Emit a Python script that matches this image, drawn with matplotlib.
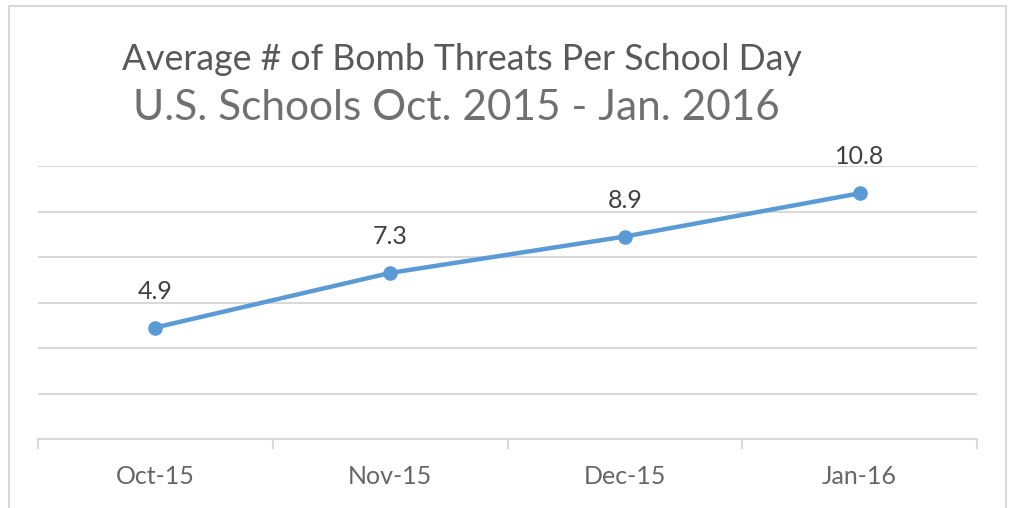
import matplotlib.pyplot as plt
from matplotlib.patches import Rectangle

months = ["Oct-15", "Nov-15", "Dec-15", "Jan-16"]
avg_threats = [4.9, 7.3, 8.9, 10.8]
value_labels = ["4.9", "7.3", "8.9", "10.8"]

title = "Average # of Bomb Threats Per School Day"
subtitle = "U.S. Schools Oct. 2015 - Jan. 2016"

plt.rcParams['font.family'] = ['Lato', 'DejaVu Sans']

W, H = 1011, 508
fig = plt.figure(figsize=(W / 100, H / 100), dpi=100)

# outer chart frame (bottom edge runs off the image)
fig.patches.append(Rectangle((9 / W, -0.1), (1006 - 9) / W, 1.1 - 6 / H,
                             transform=fig.transFigure, fill=False,
                             edgecolor='#d9d9d9', linewidth=1.5))
# descender of cut-off text above the frame
fig.text(150 / W, 1 + 14 / H, "p", fontsize=20, color='black', ha='center', va='baseline')

ax = fig.add_axes([38 / W, 1 - 439 / H, (977 - 38) / W, (439 - 166) / H])
x = range(len(months))
ax.plot(x, avg_threats, color='#5b9bd5', linewidth=3.2, marker='o', markersize=9.5,
        solid_capstyle='round', zorder=3)
for xi, v, lab in zip(x, avg_threats, value_labels):
    ax.annotate(lab, (xi, v), xytext=(0, 18), textcoords='offset points',
                ha='center', va='bottom', fontsize=18, color='#404040')

ax.set_xlim(-0.5, len(months) - 0.5)
ax.set_ylim(0, 12)
ax.set_yticks(range(0, 13, 2))
ax.yaxis.grid(True, color='#d9d9d9', linewidth=1.5)
ax.set_axisbelow(True)
ax.tick_params(axis='y', left=False, labelleft=False)

ax.set_xticks([i - 0.5 for i in range(len(months) + 1)], minor=False)
ax.set_xticklabels([])
ax.set_xticks(list(x), minor=True)
ax.set_xticklabels(months, minor=True)
ax.tick_params(axis='x', which='major', direction='out', length=7, width=1.5, color='#d9d9d9')
ax.tick_params(axis='x', which='minor', length=0, pad=19, labelsize=18, labelcolor='#666666')

for s in ['top', 'right', 'left']:
    ax.spines[s].set_visible(False)
ax.spines['bottom'].set_color('#d9d9d9')
ax.spines['bottom'].set_linewidth(1.5)

fig.text(122 / W, 1 - 70 / H, title, fontsize=25.7, color='#595959', ha='left', va='baseline')
fig.text(133 / W, 1 - 120 / H, subtitle, fontsize=30.5, color='#707070', ha='left', va='baseline')

fig.savefig('out.png', dpi=100)
